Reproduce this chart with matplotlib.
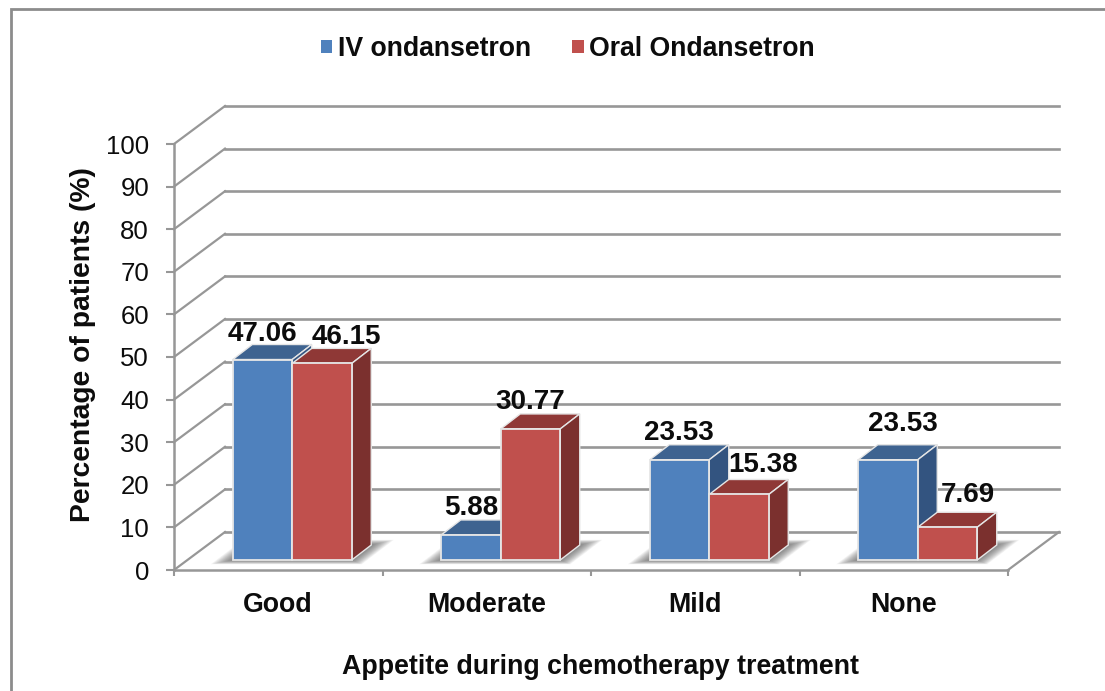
import matplotlib
matplotlib.use('Agg')
import matplotlib.pyplot as plt
from matplotlib.patches import Patch, Polygon

plt.rcParams['font.family'] = ['Liberation Sans', 'DejaVu Sans']

categories = ['Good', 'Moderate', 'Mild', 'None']
iv_values = [47.06, 5.88, 23.53, 23.53]
oral_values = [46.15, 30.77, 15.38, 7.69]
y_ticks = list(range(0, 101, 10))

W, H = 1105, 691
LEFT, RIGHT, BOTTOM, TOP = 174, 1008, 570, 144

# fake 3d: wall depth and bar depth, in data units
px_x = (RIGHT - LEFT) / 4
px_y = (BOTTOM - TOP) / 100
wall_dx, wall_dy = 51 / px_x, 38 / px_y
lift_dx, lift_dy = 14 / px_x, 10 / px_y
bar_dx, bar_dy = 19.5 / px_x, 15 / px_y
bar_w = 59.5 / px_x

GRID = '#979797'
EDGE = '#e6e6e6'
TEXT = '#0c0c0c'
# (front, top, side)
BLUE = ('#4f81bd', '#3e6390', '#335480')
RED = ('#c0504d', '#8f3836', '#7b302e')

fig = plt.figure(figsize=(W / 100, H / 100), dpi=100)
fig.add_artist(plt.Rectangle((10.5 / W, -0.01), 1.1, 1 - 8.5 / H + 0.01, transform=fig.transFigure,
                             fc='white', ec='#8c8c8c', lw=2, zorder=-1))
ax = fig.add_axes([LEFT / W, 1 - BOTTOM / H, (RIGHT - LEFT) / W, (BOTTOM - TOP) / H])
ax.patch.set_alpha(0)
ax.set_xlim(0, 4)
ax.set_ylim(0, 100)

for s in ['top', 'right']:
    ax.spines[s].set_visible(False)
for s in ['left', 'bottom']:
    ax.spines[s].set_color(GRID)
    ax.spines[s].set_linewidth(1.8)
    ax.spines[s].set_zorder(3)

ax.set_yticks(y_ticks)
ax.tick_params(axis='y', labelsize=18.5, color=GRID, width=1.5, length=6, pad=12, labelcolor=TEXT)
ax.set_xticks(range(5))
ax.set_xticklabels([])
ax.tick_params(axis='x', which='major', color=GRID, width=1.5, length=4.5)
ax.set_xticks([i + 0.5 for i in range(4)], categories, minor=True, fontweight='bold')
ax.tick_params(axis='x', which='minor', length=0, labelsize=19.3, pad=15.5, labelcolor=TEXT)

# back wall and left wall
for v in y_ticks:
    ax.plot([wall_dx, 4 + wall_dx], [v + wall_dy, v + wall_dy], color=GRID, lw=1.9, clip_on=False, zorder=1)
    ax.plot([0, wall_dx], [v, v + wall_dy], color=GRID, lw=1.6, clip_on=False, zorder=1)
ax.plot([4, 4 + wall_dx], [0, wall_dy], color=GRID, lw=1.6, clip_on=False, zorder=1)


def draw_shadow(x0, x1, z):
    # soft floor shadow: stacked slices from the wide outline in to the bar footprint
    inner = [(x0, lift_dy), (x1, lift_dy), (x1 + bar_dx, lift_dy + bar_dy), (x0 + bar_dx, lift_dy + bar_dy)]
    outer = [(x0 - 22 / px_x, lift_dy - 1), (x1 + 10 / px_x, lift_dy - 1),
             (x1 + 42 / px_x, lift_dy + bar_dy + 1.2), (x0 + 10 / px_x, lift_dy + bar_dy + 1.2)]
    n = 16
    for k in range(n):
        a = k / n
        pts = [(o[0] + a * (i[0] - o[0]), o[1] + a * (i[1] - o[1])) for o, i in zip(outer, inner)]
        ax.add_patch(Polygon(pts, closed=True, fc='#4a4a4a', ec='none', alpha=0.06, clip_on=False, zorder=z))


def draw_bar(x, value, cols, z):
    ax.bar(x, value, bar_w, bottom=lift_dy, align='edge', color=cols[0], edgecolor=EDGE, linewidth=1.3, zorder=z + 0.2)
    xr = x + bar_w
    yt = lift_dy + value
    top = [(x, yt), (xr, yt), (xr + bar_dx, yt + bar_dy), (x + bar_dx, yt + bar_dy)]
    side = [(xr, lift_dy), (xr + bar_dx, lift_dy + bar_dy), (xr + bar_dx, yt + bar_dy), (xr, yt)]
    ax.add_patch(Polygon(top, closed=True, fc=cols[1], ec=EDGE, lw=1.0, zorder=z, clip_on=False))
    ax.add_patch(Polygon(side, closed=True, fc=cols[2], ec=EDGE, lw=1.0, zorder=z, clip_on=False))


# pixel nudges for the data labels, (dx, dy) from the middle of the bar top
iv_nudge = [(0, 26), (0, 27), (-1, 27), (15, 36)]
oral_nudge = [(24, 26), (0, 27), (24, 29), (20, 32)]

for i in range(4):
    x = i + 0.5 + lift_dx - bar_w
    draw_shadow(x, x + 2 * bar_w, 2)
    draw_bar(x, iv_values[i], BLUE, 4)
    draw_bar(x + bar_w, oral_values[i], RED, 5)
    for xb, val, nudge in [(x, iv_values[i], iv_nudge[i]), (x + bar_w, oral_values[i], oral_nudge[i])]:
        ax.annotate(f'{val:.2f}', (xb + bar_w / 2, val + lift_dy), xytext=(nudge[0] * 0.72, nudge[1] * 0.72),
                    textcoords='offset points', ha='center', va='center', fontsize=20, fontweight='bold',
                    color=TEXT, zorder=10, annotation_clip=False)

ax.set_ylabel('Percentage of patients (%)', fontsize=20.3, fontweight='bold', color=TEXT)
ax.yaxis.set_label_coords((96 - LEFT) / (RIGHT - LEFT), (BOTTOM - 345) / (BOTTOM - TOP))
ax.set_xlabel('Appetite during chemotherapy treatment', fontsize=19.3, fontweight='bold', color=TEXT)
ax.xaxis.set_label_coords((600 - LEFT) / (RIGHT - LEFT), (BOTTOM - 654) / (BOTTOM - TOP))

handles = [Patch(fc=BLUE[0], ec='none', label='IV ondansetron'),
           Patch(fc=RED[0], ec='none', label='Oral Ondansetron')]
fig.legend(handles=handles, ncol=2, loc='center', bbox_to_anchor=(568 / W, 1 - 49 / H), frameon=False,
           prop={'size': 19.2, 'weight': 'bold'}, handlelength=0.42, handleheight=0.42, handletextpad=0.22,
           columnspacing=1.55, labelcolor=TEXT)

fig.savefig('out.png', dpi=100)
